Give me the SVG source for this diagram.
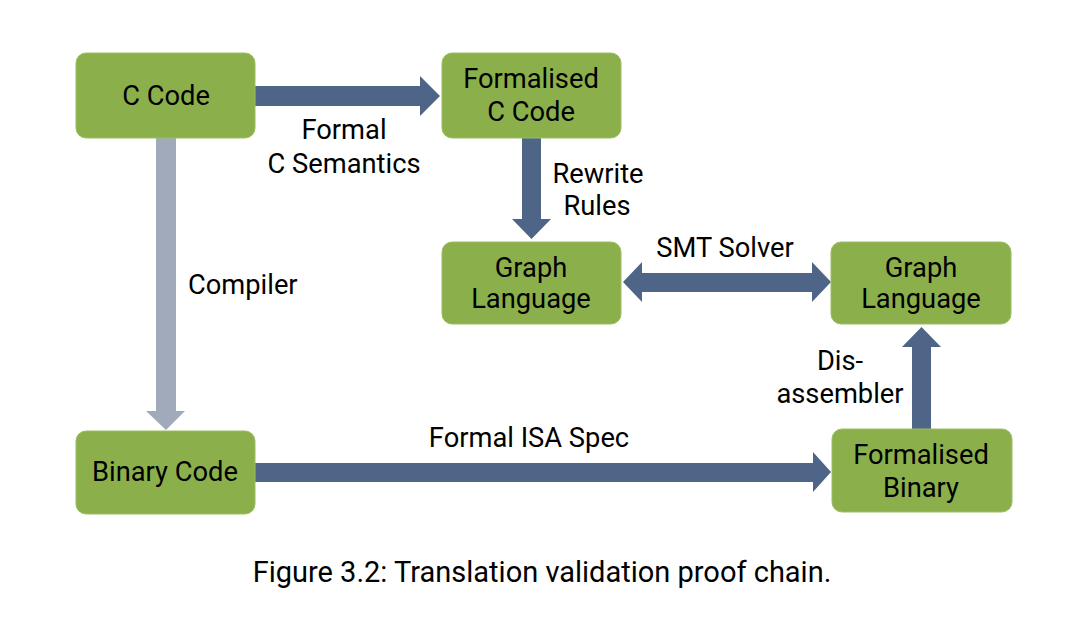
<svg xmlns="http://www.w3.org/2000/svg" width="1085" height="618" viewBox="0 0 1085 618">
<style>
.box{fill:#8BB04B;stroke:#9CBE62;stroke-width:1}
.t{font-family:Roboto,"Liberation Sans",sans-serif;font-size:27.3px;fill:#000;text-anchor:middle}
.l{font-family:Roboto,"Liberation Sans",sans-serif;font-size:27.3px;fill:#000}
.cap{font-family:Roboto,"Liberation Sans",sans-serif;font-size:29px;fill:#000;text-anchor:middle}
.a{fill:#4E6587}
.g{fill:#A0AABB}
</style>
<rect x="0" y="0" width="1085" height="618" fill="#fff"/>
<g id="connectors">
<polygon class="a" points="255,86 420,86 420,76 440,96 420,116 420,106 255,106"/>
<polygon class="g" points="156,138 176,138 176,411 185,411 166,430 146,411 156,411"/>
<polygon class="a" points="522,138 541,138 541,219 551,219 531.5,239 512,219 522,219"/>
<polygon class="a" points="623,282 642,262 642,273 812,273 812,262 831,282 812,302 812,292 642,292 642,302"/>
<polygon class="a" points="912,429 912,347 902,347 921.5,327 941,347 931,347 931,429"/>
<polygon class="a" points="255,463 813,463 813,452 831,472 813,492 813,482 255,482"/>
</g>
<g id="labels">
<text class="t" x="344" y="139">Formal</text>
<text class="t" x="344" y="173">C Semantics</text>
<text class="l" x="188" y="294">Compiler</text>
<text class="t" x="598" y="183">Rewrite</text>
<text class="t" x="597" y="215">Rules</text>
<text class="t" x="725" y="257">SMT Solver</text>
<text class="t" x="840" y="370">Dis-</text>
<text class="t" x="840" y="403">assembler</text>
<text class="t" x="529" y="447">Formal ISA Spec</text>
</g>
<g id="n-ccode">
<rect class="box" x="76" y="53" width="179" height="85" rx="10"/>
<text class="t" x="166" y="105">C Code</text>
</g>
<g id="n-formalised-c">
<rect class="box" x="442" y="53" width="179" height="85" rx="10"/>
<text class="t" x="531" y="88">Formalised</text>
<text class="t" x="531" y="121">C Code</text>
</g>
<g id="n-graph-left">
<rect class="box" x="442" y="242" width="179" height="82" rx="10"/>
<text class="t" x="531" y="277">Graph</text>
<text class="t" x="531" y="308">Language</text>
</g>
<g id="n-graph-right">
<rect class="box" x="831" y="242" width="180" height="82" rx="10"/>
<text class="t" x="921" y="277">Graph</text>
<text class="t" x="921" y="308">Language</text>
</g>
<g id="n-binary">
<rect class="box" x="76" y="431" width="179" height="83" rx="10"/>
<text class="t" x="165" y="481">Binary Code</text>
</g>
<g id="n-formalised-binary">
<rect class="box" x="832" y="429" width="180" height="83" rx="10"/>
<text class="t" x="921" y="464">Formalised</text>
<text class="t" x="921" y="497">Binary</text>
</g>
<text class="cap" x="542" y="582">Figure 3.2: Translation validation proof chain.</text>
</svg>
